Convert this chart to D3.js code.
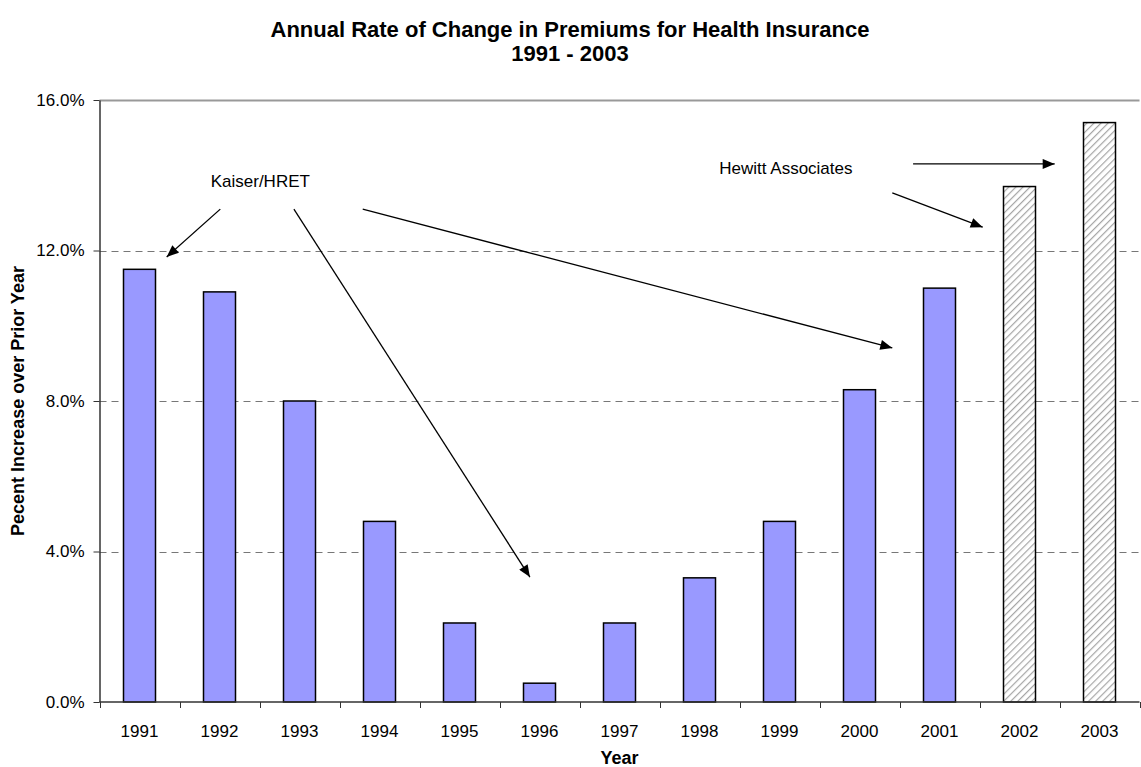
<!DOCTYPE html>
<html lang="en">
<head>
    <meta charset="UTF-8">
    <title>Annual Rate of Change in Premiums</title>
    <script src="https://d3js.org/d3.v7.min.js"></script>
    <style>
        body { margin: 0; background: white; font-family: 'Liberation Sans', Arial, sans-serif; }
        svg text { font-family: 'Liberation Sans', Arial, sans-serif; fill: #000; }
    </style>
</head>
<body>
<div id="chart"></div>
<script>
    // data
    const years = ["1991","1992","1993","1994","1995","1996","1997","1998","1999","2000","2001","2002","2003"];
    const rates = [11.5, 10.9, 8.0, 4.8, 2.1, 0.5, 2.1, 3.3, 4.8, 8.3, 11.0, 13.7, 15.4];
    const sources = ["K","K","K","K","K","K","K","K","K","K","K","H","H"]; // K = Kaiser/HRET, H = Hewitt
    const yTicks = [0, 4, 8, 12, 16];

    // annotations in data units: pos = band steps from the left edge, v = percent
    const labels = [
        {text: "Kaiser/HRET", pos: 2.01, v: 13.85},
        {text: "Hewitt Associates", pos: 8.58, v: 14.2}
    ];
    const arrows = [
        {from: [1.51, 13.1], to: [0.84, 11.83]},
        {from: [2.43, 13.1], to: [5.38, 3.32]},
        {from: [3.29, 13.1], to: [9.91, 9.41]},
        {from: [10.17, 14.3], to: [11.94, 14.3]},
        {from: [9.91, 13.53], to: [11.04, 12.62]}
    ];

    const W = 1141, H = 767;
    const margin = {top: 100, right: 1.5, bottom: 65, left: 99.5};

    const svg = d3.select("#chart").append("svg")
        .attr("width", W).attr("height", H);

    const defs = svg.append("defs");
    const pat = defs.append("pattern")
        .attr("id", "hatch")
        .attr("patternUnits", "userSpaceOnUse")
        .attr("width", 5).attr("height", 5)
        .attr("patternTransform", "rotate(45)");
    pat.append("rect").attr("width", 5).attr("height", 5).attr("fill", "white");
    pat.append("line").attr("x1", 0).attr("y1", 0).attr("x2", 0).attr("y2", 5)
        .attr("stroke", "#a6a6a6").attr("stroke-width", 2.4);

    defs.append("marker")
        .attr("id", "head")
        .attr("markerUnits", "userSpaceOnUse")
        .attr("viewBox", "0 0 12 10")
        .attr("refX", 12).attr("refY", 5)
        .attr("markerWidth", 13).attr("markerHeight", 10)
        .attr("orient", "auto")
        .append("path").attr("d", "M0,0 L12,5 L0,10 Z").attr("fill", "#000");

    const x = d3.scaleBand()
        .domain(years)
        .range([margin.left, W - margin.right])
        .paddingInner(0.6).paddingOuter(0.3);
    const y = d3.scaleLinear()
        .domain([0, 16])
        .range([H - margin.bottom, margin.top]);

    const step = x.step();
    const px = p => margin.left + p * step;

    // gridlines
    svg.append("g").selectAll("line")
        .data(yTicks.filter(t => t > 0))
        .join("line")
        .attr("x1", margin.left).attr("x2", W - margin.right)
        .attr("y1", d => Math.round(y(d)) + 0.5).attr("y2", d => Math.round(y(d)) + 0.5)
        .attr("stroke", d => d === 16 ? "#999" : "#777")
        .attr("stroke-width", d => d === 16 ? 2 : 1)
        .attr("stroke-dasharray", d => d === 16 ? null : "7,5");

    // bars
    svg.append("g").selectAll("rect")
        .data(years)
        .join("rect")
        .attr("x", d => x(d))
        .attr("width", x.bandwidth())
        .attr("y", (d, i) => y(rates[i]))
        .attr("height", (d, i) => y(0) - y(rates[i]))
        .attr("fill", (d, i) => sources[i] === "H" ? "url(#hatch)" : "#9999ff")
        .attr("stroke", "#000")
        .attr("stroke-width", 1.5);

    // y axis
    const yAxis = svg.append("g")
        .attr("transform", `translate(${margin.left},0)`)
        .call(d3.axisLeft(y).tickValues(yTicks).tickSize(6).tickSizeOuter(0)
            .tickFormat(d => d.toFixed(1) + "%"));
    yAxis.select(".domain").attr("stroke", "#333").attr("stroke-width", 1.5);
    yAxis.selectAll(".tick line").attr("stroke", "#333");
    yAxis.selectAll("text").style("font-size", "17px").attr("dx", "-6");

    // x axis: ticks between categories
    const xAxis = svg.append("g")
        .attr("transform", `translate(0,${y(0)})`);
    xAxis.append("line")
        .attr("x1", margin.left).attr("x2", W - margin.right)
        .attr("stroke", "#333").attr("stroke-width", 1.5);
    xAxis.selectAll(".sep")
        .data(d3.range(years.length + 1))
        .join("line")
        .attr("class", "sep")
        .attr("x1", i => Math.round(px(i)) + 0.5).attr("x2", i => Math.round(px(i)) + 0.5)
        .attr("y1", 0).attr("y2", 6)
        .attr("stroke", "#333");
    xAxis.selectAll("text")
        .data(years)
        .join("text")
        .attr("x", d => x(d) + x.bandwidth() / 2)
        .attr("y", 35)
        .attr("text-anchor", "middle")
        .style("font-size", "17px")
        .text(d => d);

    // titles
    svg.append("text")
        .attr("x", 570).attr("y", 37)
        .attr("text-anchor", "middle")
        .style("font-size", "22px").style("font-weight", "bold")
        .text("Annual Rate of Change in Premiums for Health Insurance");
    svg.append("text")
        .attr("x", 570).attr("y", 61)
        .attr("text-anchor", "middle")
        .style("font-size", "22px").style("font-weight", "bold")
        .text("1991 - 2003");
    svg.append("text")
        .attr("x", (margin.left + W - margin.right) / 2).attr("y", 764)
        .attr("text-anchor", "middle")
        .style("font-size", "18px").style("font-weight", "bold")
        .text("Year");
    svg.append("text")
        .attr("transform", `translate(24,${(y(0) + y(16)) / 2}) rotate(-90)`)
        .attr("text-anchor", "middle")
        .style("font-size", "18px").style("font-weight", "bold")
        .text("Pecent Increase over Prior Year");

    // annotations
    svg.append("g").selectAll("text")
        .data(labels)
        .join("text")
        .attr("x", d => px(d.pos))
        .attr("y", d => y(d.v))
        .attr("dy", "0.35em")
        .attr("text-anchor", "middle")
        .style("font-size", "17px")
        .text(d => d.text);

    svg.append("g").selectAll("line")
        .data(arrows)
        .join("line")
        .attr("x1", d => px(d.from[0])).attr("y1", d => y(d.from[1]))
        .attr("x2", d => px(d.to[0])).attr("y2", d => y(d.to[1]))
        .attr("stroke", "#000").attr("stroke-width", 1.3)
        .attr("marker-end", "url(#head)");
</script>
</body>
</html>
